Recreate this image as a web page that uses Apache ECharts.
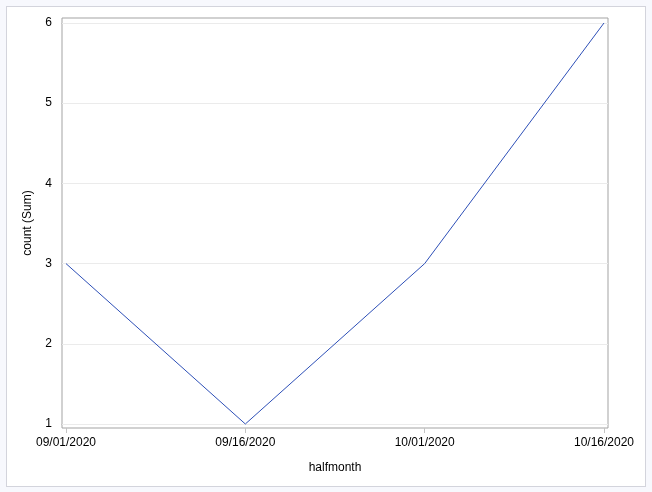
<!DOCTYPE html>
<html><head><meta charset="utf-8">
<script src="https://cdn.jsdelivr.net/npm/echarts@6/dist/echarts.min.js"></script>
<style>
html,body{margin:0;padding:0;background:#f7f8fd;}
#wrap{position:absolute;left:6px;top:6px;width:638px;height:479px;border:1px solid #d3d4dc;background:#fff;}
#chart{position:absolute;left:-7px;top:-7px;width:652px;height:492px;}
</style></head>
<body><div id="wrap"><div id="chart"></div></div>
<script>
const categories = ["09/01/2020", "09/16/2020", "10/01/2020", "10/16/2020"];
const counts = [3, 1, 3, 6];
const yTicks = [1, 2, 3, 4, 5, 6];
const xTickIdx = [0, 1, 2, 3];

const chart = echarts.init(document.getElementById('chart'), null, {renderer: 'canvas'});
const font = 'Liberation Sans, Arial, sans-serif';
chart.setOption({
  animation: false,
  grid: {left: 62, right: 44, top: 18, bottom: 64, show: true, borderColor: '#a3a3a3', borderWidth: 1, backgroundColor: 'transparent'},
  xAxis: {
    type: 'value',
    min: -0.0223, max: 3.0223,
    name: 'halfmonth', nameLocation: 'middle', nameGap: 34,
    nameTextStyle: {color: '#000', fontSize: 12, fontFamily: font},
    axisLine: {show: false},
    axisTick: {show: true, customValues: xTickIdx, length: 5, lineStyle: {color: '#c4c4c4'}},
    axisLabel: {customValues: xTickIdx, color: '#000', fontSize: 12, fontFamily: font, margin: 9,
      formatter: v => categories[Math.round(v)]},
    splitLine: {show: false}
  },
  yAxis: {
    type: 'value',
    min: 0.95, max: 6.062,
    name: 'count (Sum)', nameLocation: 'middle', nameGap: 28,
    nameTextStyle: {color: '#000', fontSize: 12, fontFamily: font},
    axisLine: {show: false},
    axisTick: {show: true, customValues: yTicks, length: 5, lineStyle: {color: '#c4c4c4'}},
    axisLabel: {customValues: yTicks, color: '#000', fontSize: 12, fontFamily: font, margin: 10},
    splitLine: {show: false}
  },
  series: [{
    type: 'line',
    data: counts.map((c, i) => [i, c]),
    symbol: 'none',
    lineStyle: {color: '#2d4fb7', width: 1},
    markLine: {
      silent: true, symbol: 'none', label: {show: false},
      lineStyle: {color: '#ebebeb', width: 1, type: 'solid'},
      z: 1,
      data: yTicks.map(t => [{coord: [-0.0223, t]}, {coord: [3.0223, t]}])
    },
    z: 3
  }]
});
</script></body></html>
